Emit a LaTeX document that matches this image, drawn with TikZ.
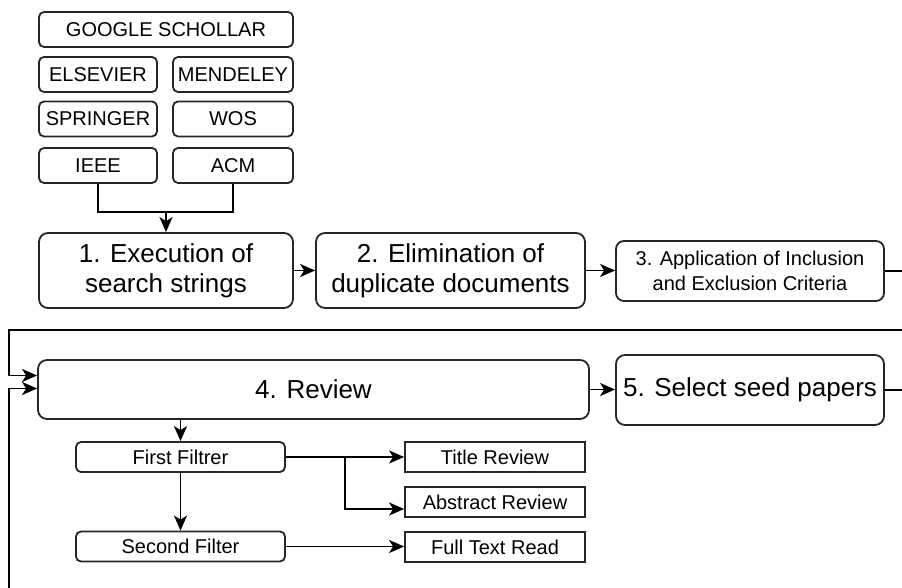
\documentclass[tikz,border=0pt]{standalone}
\usepackage{fontspec}
\setmainfont{Liberation Sans}
\usetikzlibrary{arrows.meta}
\begin{document}
\begin{tikzpicture}[x=1pt,y=-1pt,
  box/.style={draw=black!85, line width=1.8pt, inner sep=0pt, align=center},
  src/.style={box, rounded corners=5pt, font=\fontsize{20}{24}\selectfont, minimum height=35pt},
  big/.style={box, rounded corners=9pt, font=\fontsize{26}{30}\selectfont},
  mid/.style={box, rounded corners=8pt, font=\fontsize{20}{25}\selectfont},
  filt/.style={box, rounded corners=5pt, font=\fontsize{20}{24}\selectfont, minimum width=209pt, minimum height=30pt},
  leaf/.style={box, font=\fontsize{20}{24}\selectfont, minimum width=180pt, minimum height=30pt},
  link/.style={draw=black, line width=1.8pt},
  arr/.style={link, -{Stealth[length=15pt,width=13pt,inset=4pt]}}
]
\fill[white] (0,0) rectangle (902,588);
\useasboundingbox (0,0) rectangle (902,588);

% literature sources
\node[src, minimum width=254pt] (gs)   at (166,29.5)  {GOOGLE SCHOLLAR};
\node[src, minimum width=118pt] (els)  at (98,74.5)   {ELSEVIER};
\node[src, minimum width=120pt] (men)  at (233,74.5)  {MENDELEY};
\node[src, minimum width=118pt] (spr)  at (98,119)    {SPRINGER};
\node[src, minimum width=120pt] (wos)  at (233,119)   {WOS};
\node[src, minimum width=118pt] (ieee) at (98,165.5)  {IEEE};
\node[src, minimum width=120pt] (acm)  at (233,165.5) {ACM};

% main steps
\node[big, minimum width=254pt, minimum height=75pt] (s1) at (166,270.5) {1. Execution of\\search strings};
\node[big, minimum width=269pt, minimum height=75pt] (s2) at (450.5,270.5) {2. Elimination of\\duplicate documents};
\node[mid, minimum width=268pt, minimum height=60pt] (s3) at (750,271) {3. Application of Inclusion\\and Exclusion Criteria};
\node[big, minimum width=551pt, minimum height=59pt] (s4) at (313.5,389.5) {4. Review};
\node[big, minimum width=268pt, minimum height=70pt] (s5) at (750,390) {5. Select seed papers};

% review filters
\node[filt] (ff) at (180.5,457)   {First Filtrer};
\node[filt] (sf) at (180.5,546.5) {Second Filter};
\node[leaf] (tr) at (495,457) {Title Review};
\node[leaf] (ar) at (495,502) {Abstract Review};
\node[leaf] (ft) at (495,547) {Full Text Read};

% helper points
\coordinate (join)  at (166,212);
\coordinate (out3)  at (902,270);
\coordinate (back)  at (902,330);
\coordinate (lt)    at (9,330);
\coordinate (out5)  at (902,390);
\coordinate (bottom) at (9,588);
\coordinate (fork)  at (345,457);

% connectors
\draw[link] (ieee.south) |- (join) -| (acm.south);
\draw[arr] (join) -- (s1.north);
\draw[arr] (s1) -- (s2);
\draw[arr] (s2.east) -- (s2.east -| s3.west);
\draw[link] (s3.east) -- (s3.east -| out3);
\draw[arr] (back) -- (lt) |- ([yshift=14pt]s4.west);
\draw[arr] (bottom) |- ([yshift=1pt]s4.west);
\draw[arr] (s4.east) -- (s4.east -| s5.west);
\draw[link] (s5.east) -- (s5.east -| out5);
\draw[arr] (s4.south -| ff) -- (ff);
\draw[arr] (ff) -- (sf);
\draw[arr] (ff) -- (tr);
\draw[arr] (fork) |- ([yshift=-7pt]ar.west);
\draw[arr] (sf.east) -- (sf.east -| ft.west);
\end{tikzpicture}
\end{document}
